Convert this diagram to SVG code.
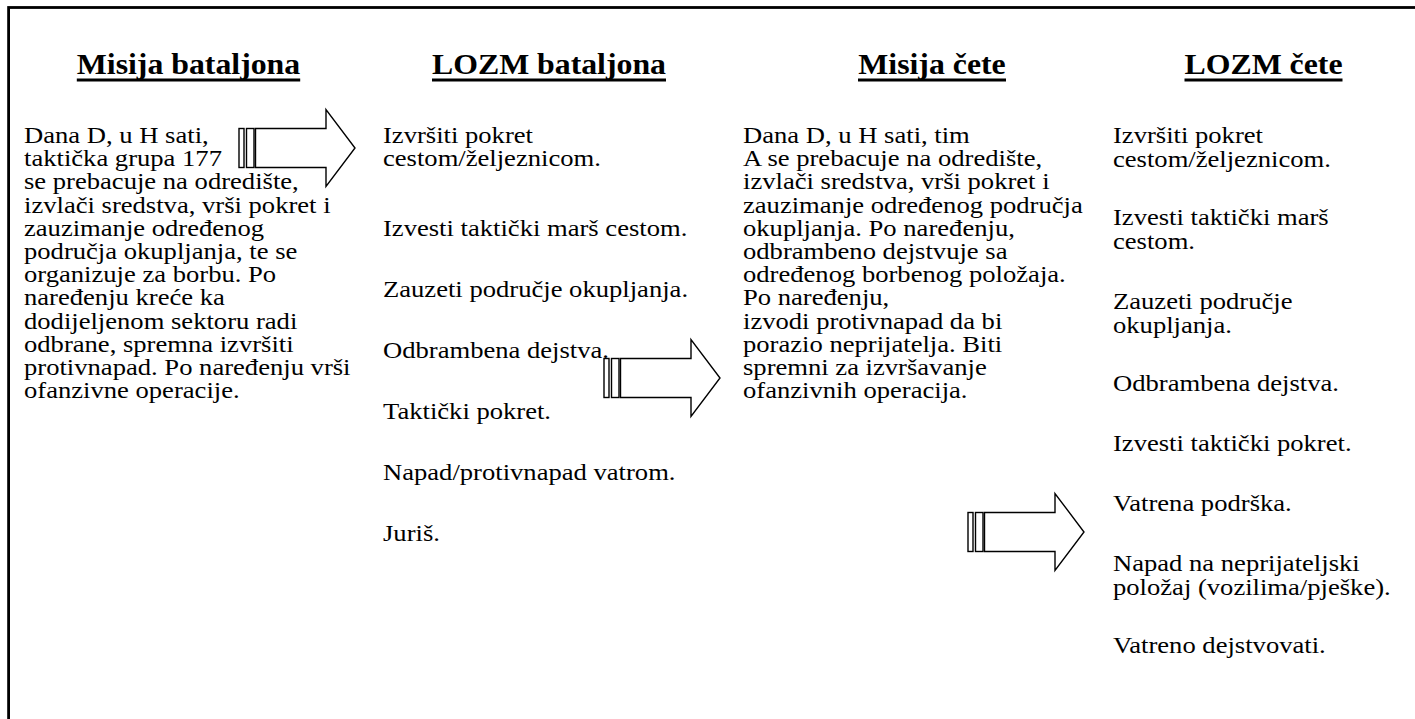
<svg xmlns="http://www.w3.org/2000/svg" width="1415" height="719" viewBox="0 0 1415 719">
<style>
.t{font-family:"Liberation Serif","Times New Roman",serif;font-size:23px;fill:#000}
.h{font-family:"Liberation Serif","Times New Roman",serif;font-size:29.5px;font-weight:bold;fill:#000;text-anchor:middle}
.ul{stroke:#000;stroke-width:2.8}
.ar{fill:#fff;stroke:#000;stroke-width:1.4;stroke-linejoin:miter}
</style>
<defs>
<g id="striped">
<rect class="ar" x="0" y="-19.5" width="5" height="39"/>
<rect class="ar" x="7.5" y="-19.5" width="7.5" height="39"/>
<polygon class="ar" points="16.5,-19.5 87,-19.5 87,-38.5 116,0 87,38.5 87,19.5 16.5,19.5"/>
</g>
</defs>
<rect x="0" y="0" width="1415" height="719" fill="#fff"/>
<rect id="frame" x="8.6" y="7.5" width="1450" height="760" fill="none" stroke="#000" stroke-width="2.8"/>

<g id="col1">
<g transform="translate(188.5,0) scale(1.078,1)"><text class="h" x="0" y="74">Misija bataljona</text></g>
<line class="ul" x1="76.8" y1="80" x2="300.2" y2="80"/>
<g transform="translate(24,0) scale(1.157,1)">
<text class="t" x="0" y="143">Dana D, u H sati,</text>
<text class="t" x="0" y="166.2">taktička grupa 177</text>
<text class="t" x="0" y="189.4">se prebacuje na odredište,</text>
<text class="t" x="0" y="212.6">izvlači sredstva, vrši pokret i</text>
<text class="t" x="0" y="235.8">zauzimanje određenog</text>
<text class="t" x="0" y="259">područja okupljanja, te se</text>
<text class="t" x="0" y="282.2">organizuje za borbu. Po</text>
<text class="t" x="0" y="305.4">naređenju kreće ka</text>
<text class="t" x="0" y="328.6">dodijeljenom sektoru radi</text>
<text class="t" x="0" y="351.8">odbrane, spremna izvršiti</text>
<text class="t" x="0" y="375">protivnapad. Po naređenju vrši</text>
<text class="t" x="0" y="398.2">ofanzivne operacije.</text>
</g>
</g>

<g id="col2">
<g transform="translate(549,0) scale(1.078,1)"><text class="h" x="0" y="74">LOZM bataljona</text></g>
<line class="ul" x1="432" y1="80" x2="666" y2="80"/>
<g transform="translate(383,0) scale(1.157,1)">
<text class="t" x="0" y="143">Izvršiti pokret</text>
<text class="t" x="0" y="166.5">cestom/željeznicom.</text>
<text class="t" x="0" y="236">Izvesti taktički marš cestom.</text>
<text class="t" x="0" y="297">Zauzeti područje okupljanja.</text>
<text class="t" x="0" y="358">Odbrambena dejstva.</text>
<text class="t" x="0" y="419">Taktički pokret.</text>
<text class="t" x="0" y="480">Napad/protivnapad vatrom.</text>
<text class="t" x="0" y="541">Juriš.</text>
</g>
</g>

<g id="col3">
<g transform="translate(932,0) scale(1.078,1)"><text class="h" x="0" y="74">Misija čete</text></g>
<line class="ul" x1="858" y1="80" x2="1006" y2="80"/>
<g transform="translate(743,0) scale(1.157,1)">
<text class="t" x="0" y="143">Dana D, u H sati, tim</text>
<text class="t" x="0" y="166.2">A se prebacuje na odredište,</text>
<text class="t" x="0" y="189.4">izvlači sredstva, vrši pokret i</text>
<text class="t" x="0" y="212.6">zauzimanje određenog područja</text>
<text class="t" x="0" y="235.8">okupljanja. Po naređenju,</text>
<text class="t" x="0" y="259">odbrambeno dejstvuje sa</text>
<text class="t" x="0" y="282.2">određenog borbenog položaja.</text>
<text class="t" x="0" y="305.4">Po naređenju,</text>
<text class="t" x="0" y="328.6">izvodi protivnapad da bi</text>
<text class="t" x="0" y="351.8">porazio neprijatelja. Biti</text>
<text class="t" x="0" y="375">spremni za izvršavanje</text>
<text class="t" x="0" y="398.2">ofanzivnih operacija.</text>
</g>
</g>

<g id="col4">
<g transform="translate(1263.5,0) scale(1.078,1)"><text class="h" x="0" y="74">LOZM čete</text></g>
<line class="ul" x1="1184.5" y1="80" x2="1342.5" y2="80"/>
<g transform="translate(1113,0) scale(1.157,1)">
<text class="t" x="0" y="143">Izvršiti pokret</text>
<text class="t" x="0" y="167">cestom/željeznicom.</text>
<text class="t" x="0" y="225">Izvesti taktički marš</text>
<text class="t" x="0" y="249">cestom.</text>
<text class="t" x="0" y="309">Zauzeti područje</text>
<text class="t" x="0" y="333">okupljanja.</text>
<text class="t" x="0" y="391">Odbrambena dejstva.</text>
<text class="t" x="0" y="451">Izvesti taktički pokret.</text>
<text class="t" x="0" y="511">Vatrena podrška.</text>
<text class="t" x="0" y="571">Napad na neprijateljski</text>
<text class="t" x="0" y="595">položaj (vozilima/pješke).</text>
<text class="t" x="0" y="653">Vatreno dejstvovati.</text>
</g>
</g>

<g id="connectors">
<use href="#striped" transform="translate(239,148)"/>
<use href="#striped" transform="translate(604,378)"/>
<use href="#striped" transform="translate(968,532)"/>
</g>
</svg>
